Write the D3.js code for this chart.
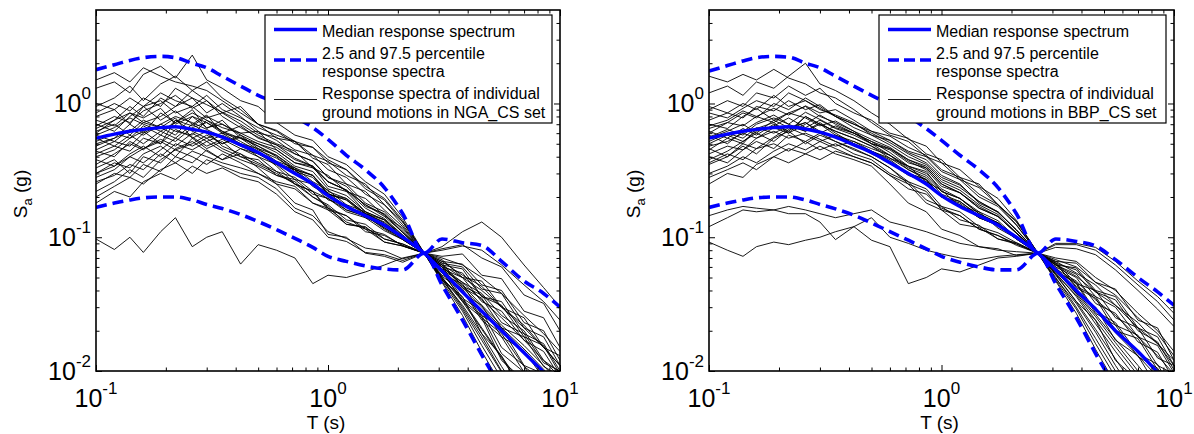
<!DOCTYPE html>
<html><head><meta charset="utf-8">
<script src="https://cdn.jsdelivr.net/npm/d3@7"></script>
<style>
body{margin:0;background:#fff}
svg{display:block}
text{font-family:"Liberation Sans",Arial,Helvetica,sans-serif;fill:#000}
</style>
</head><body>
<svg id="chart" width="1194" height="434"></svg>
<script>
// Periods T (s)
const periods = [0.1,0.12,0.14,0.16,0.19,0.22,0.26,0.3,0.35,0.42,0.5,0.6,0.72,0.86,1.0,1.2,1.45,1.75,2.1,2.6,3.1,3.8,4.6,5.6,7,8.5,10];

// NGA_CS set (left panel)
const medianNGA = [.55,.59,.62,.64,.66,.67,.64,.61,.56,.49,.43,.36,.30,.25,.205,.17,.145,.123,.10,.076,.056,.039,.028,.020,.0137,.0098,.0074];
const lowerNGA  = [.167,.18,.19,.197,.20,.20,.19,.176,.164,.148,.131,.114,.098,.084,.072,.066,.061,.058,.057,.076,.044,.024,.0132,.0073,.0037,.002,.0012];
const upperNGA  = [1.79,1.95,2.1,2.2,2.25,2.2,2.0,1.85,1.6,1.35,1.15,1.0,.80,.66,.54,.41,.32,.235,.15,.076,.097,.091,.087,.066,.047,.038,.03];
const motionsNGA = [
 [1.30,1.45,1.20,1.65,1.90,1.55,2.30,1.50,1.30,1.05,.95,.72,.58,.53,.40,.35,.26,.21,.14,.076,.048,.036,.019,.013,.0066,.0045,.0026],
 [.95,1.10,1.35,1.05,1.40,1.60,1.25,1.45,1.10,.90,.70,.62,.50,.47,.36,.32,.23,.19,.13,.076,.060,.038,.031,.018,.0142,.0088,.0070],
 [.60,.75,.95,.80,1.10,.95,1.25,1.05,.85,.95,.70,.55,.52,.39,.35,.25,.22,.16,.12,.076,.062,.058,.036,.033,.019,.016,.010],
 [.40,.45,.55,.62,.50,.75,.68,.80,.70,.60,.62,.45,.36,.34,.24,.22,.155,.135,.10,.076,.047,.028,.0155,.0088,.0046,.0026,.0016],
 [.30,.36,.33,.42,.48,.40,.55,.46,.52,.40,.35,.30,.25,.20,.17,.125,.12,.092,.086,.076,.056,.033,.025,.012,.0085,.0045,.0036],
 [.25,.30,.28,.35,.31,.40,.36,.45,.38,.42,.33,.25,.18,.16,.105,.10,.076,.072,.065,.076,.052,.045,.026,.021,.011,.0095,.0055],
 [.50,.55,.70,.60,.85,.72,.90,.65,.75,.55,.48,.40,.31,.28,.21,.19,.15,.13,.098,.076,.049,.029,.017,.0098,.0052,.003,.0018],
 [.70,.62,.80,.95,.75,.88,.70,.82,.60,.55,.45,.39,.32,.29,.21,.19,.145,.125,.096,.076,.058,.035,.028,.015,.011,.0058,.0045],
 [.45,.52,.48,.60,.70,.62,.58,.75,.62,.52,.44,.34,.25,.22,.16,.145,.115,.105,.086,.076,.064,.060,.041,.038,.021,.018,.011],
 [.22,.26,.32,.28,.38,.45,.40,.35,.42,.36,.30,.25,.23,.18,.165,.13,.115,.092,.086,.076,.072,.075,.052,.049,.028,.025,.015],
 [.55,.48,.58,.50,.62,.55,.70,.60,.50,.58,.46,.41,.32,.29,.21,.195,.15,.135,.098,.076,.046,.026,.014,.0078,.004,.0022,.0013],
 [.80,.90,.70,.95,1.05,.85,.95,.78,.85,.70,.58,.50,.44,.33,.29,.22,.195,.145,.117,.076,.055,.034,.026,.0135,.0098,.0052,.0042],
 [.35,.42,.50,.45,.58,.52,.66,.72,.60,.68,.55,.49,.42,.37,.28,.25,.18,.155,.113,.076,.060,.054,.036,.031,.018,.0155,.0095],
 [.62,.70,.58,.72,.66,.78,.55,.62,.48,.42,.36,.31,.28,.22,.195,.16,.145,.115,.096,.076,.057,.042,.030,.021,.0146,.0103,.0074],
 [.18,.22,.20,.26,.30,.27,.34,.30,.33,.28,.26,.21,.155,.135,.10,.093,.077,.074,.067,.076,.062,.042,.035,.021,.018,.0108,.0092],
 [1.0,.90,1.10,.95,1.20,1.05,.95,1.15,.90,.78,.66,.58,.52,.41,.37,.29,.25,.175,.13,.076,.050,.030,.018,.010,.0055,.0032,.002],
 [.48,.55,.62,.75,.66,.58,.80,.66,.70,.58,.50,.43,.34,.31,.23,.205,.155,.135,.103,.076,.054,.041,.025,.019,.0108,.0084,.005],
 [.28,.32,.40,.36,.45,.55,.48,.55,.46,.40,.38,.29,.26,.20,.175,.135,.125,.097,.089,.076,.068,.050,.047,.030,.025,.015,.013],
 [.65,.75,.85,.72,.80,.95,1.10,.85,1.0,.80,.62,.53,.42,.37,.28,.24,.17,.15,.108,.076,.048,.031,.019,.0108,.006,.0035,.0022],
 [.38,.34,.42,.48,.40,.50,.45,.52,.44,.38,.34,.29,.27,.21,.195,.155,.14,.112,.096,.076,.060,.044,.031,.022,.0155,.011,.008],
 [.52,.60,.55,.68,.58,.75,.62,.55,.60,.50,.40,.35,.27,.25,.19,.175,.14,.123,.097,.076,.050,.034,.021,.0128,.0075,.0046,.003],
 [.26,.29,.35,.32,.42,.36,.44,.40,.36,.33,.30,.26,.24,.18,.16,.125,.118,.097,.089,.076,.066,.063,.044,.040,.023,.020,.012],
 [.75,.68,.85,.78,.92,.70,.80,.72,.62,.55,.50,.45,.36,.33,.26,.225,.175,.148,.109,.076,.064,.043,.037,.023,.019,.0115,.010],
 [.42,.48,.44,.55,.50,.64,.56,.48,.54,.46,.42,.35,.32,.25,.215,.17,.15,.117,.098,.076,.051,.040,.024,.018,.0098,.0075,.0042],
 [.097,.081,.10,.077,.11,.14,.085,.10,.11,.063,.088,.08,.07,.045,.052,.05,.055,.062,.07,.076,.085,.11,.13,.10,.062,.042,.03],
 [.58,.66,.78,.70,.62,.72,.85,.75,.66,.60,.52,.47,.38,.34,.26,.225,.175,.143,.109,.076,.082,.088,.070,.060,.037,.032,.020],
 [.33,.38,.30,.40,.36,.46,.52,.44,.38,.46,.40,.31,.25,.22,.165,.145,.11,.103,.087,.076,.050,.033,.0205,.0125,.007,.0043,.0028],
 [1.5,1.70,1.45,1.85,1.60,1.45,1.35,1.25,1.05,.85,.70,.63,.52,.47,.38,.32,.24,.195,.134,.076,.058,.050,.033,.028,.017,.014,.009],
 [.68,.80,.72,.88,1.0,1.15,.92,1.05,.80,.66,.56,.49,.39,.34,.26,.225,.165,.138,.104,.076,.057,.046,.038,.026,.020,.012,.0098],
 [.44,.40,.52,.46,.54,.48,.60,.52,.58,.50,.46,.37,.33,.26,.225,.175,.155,.122,.101,.076,.066,.052,.043,.030,.022,.015,.011],
 [.85,1.0,.88,1.10,.95,1.30,1.10,.98,.86,.74,.60,.56,.45,.41,.32,.28,.21,.175,.124,.076,.060,.046,.034,.025,.017,.012,.009],
 [.30,.34,.40,.46,.52,.45,.50,.58,.50,.56,.48,.41,.33,.29,.22,.195,.15,.128,.099,.076,.070,.062,.050,.038,.026,.019,.014],
 [.58,.52,.64,.58,.70,.80,.72,.64,.56,.48,.42,.36,.32,.24,.205,.16,.143,.118,.098,.076,.062,.050,.040,.030,.021,.015,.011],
 [.20,.24,.28,.25,.32,.36,.30,.38,.34,.30,.28,.23,.165,.145,.11,.098,.083,.079,.069,.076,.080,.086,.080,.062,.044,.033,.024]
];

// BBP_CS set (right panel)
const medianBBP = [.55,.59,.62,.64,.66,.67,.645,.61,.56,.49,.43,.36,.30,.25,.205,.17,.145,.123,.10,.076,.057,.040,.029,.020,.014,.0098,.0074];
const lowerBBP  = [.167,.18,.19,.197,.20,.20,.19,.176,.163,.146,.128,.11,.095,.082,.072,.065,.06,.057,.057,.076,.045,.025,.0135,.0075,.0038,.002,.0012];
const upperBBP  = [1.75,1.92,2.08,2.2,2.25,2.22,2.0,1.85,1.6,1.35,1.15,.98,.80,.65,.53,.41,.32,.235,.15,.076,.097,.093,.086,.068,.05,.039,.031];
const motionsBBP = [
 [.90,1.05,.95,1.20,1.10,1.35,1.15,1.30,1.00,.85,.75,.60,.55,.42,.38,.28,.25,.175,.13,.076,.053,.033,.024,.012,.0085,.0045,.0034],
 [.60,.72,.85,.78,1.00,.90,1.10,.95,.80,.70,.62,.53,.43,.38,.29,.25,.18,.155,.113,.076,.062,.059,.040,.036,.021,.018,.011],
 [.45,.55,.50,.65,.72,.60,.80,.70,.62,.55,.48,.39,.34,.26,.225,.17,.155,.117,.098,.076,.048,.029,.016,.009,.0048,.0028,.0017],
 [.35,.40,.48,.42,.55,.62,.50,.58,.52,.45,.40,.33,.25,.22,.16,.145,.115,.103,.087,.076,.056,.045,.027,.022,.0128,.0105,.0064],
 [.70,.65,.80,.92,.75,.85,.95,.80,.72,.62,.50,.45,.36,.33,.25,.215,.165,.143,.108,.076,.049,.032,.0195,.011,.0062,.0037,.0023],
 [1.6,1.45,1.65,1.50,1.80,1.55,1.40,1.20,1.10,.90,.72,.58,.52,.40,.36,.27,.235,.175,.132,.076,.064,.042,.035,.020,.0175,.0102,.009],
 [.50,.58,.52,.62,.68,.78,.66,.75,.65,.58,.50,.46,.38,.34,.26,.225,.175,.148,.108,.076,.066,.064,.046,.041,.024,.021,.012],
 [.40,.36,.45,.52,.46,.58,.52,.45,.50,.42,.38,.30,.26,.19,.17,.135,.123,.097,.091,.076,.053,.037,.024,.0152,.0093,.0059,.004],
 [.55,.62,.70,.60,.75,.66,.72,.60,.68,.60,.52,.43,.34,.31,.22,.195,.15,.128,.099,.076,.060,.038,.030,.017,.013,.0075,.006],
 [.30,.34,.40,.36,.44,.50,.45,.52,.46,.40,.36,.29,.25,.18,.16,.125,.118,.097,.089,.076,.054,.036,.0225,.014,.0085,.0053,.0035],
 [.75,.85,.78,.95,.88,1.05,.90,.98,.80,.66,.58,.53,.44,.40,.31,.27,.20,.17,.123,.076,.056,.046,.028,.023,.0135,.0112,.0068],
 [.62,.55,.65,.58,.70,.62,.80,.70,.58,.52,.44,.39,.32,.27,.20,.18,.14,.123,.097,.076,.070,.066,.050,.040,.027,.020,.014],
 [.48,.52,.60,.55,.66,.60,.70,.82,.70,.60,.50,.41,.32,.28,.21,.185,.145,.128,.098,.076,.047,.027,.0145,.008,.0042,.0024,.0014],
 [.25,.30,.28,.35,.40,.36,.42,.38,.44,.40,.36,.29,.23,.21,.165,.145,.115,.103,.089,.076,.063,.043,.036,.022,.0185,.011,.0095],
 [.092,.08,.072,.085,.092,.088,.095,.10,.11,.12,.095,.085,.045,.05,.058,.055,.062,.07,.072,.076,.052,.033,.0205,.0123,.007,.0043,.0027],
 [.12,.14,.16,.155,.16,.15,.15,.13,.096,.12,.14,.10,.09,.08,.075,.07,.068,.072,.074,.076,.057,.041,.0285,.0193,.013,.009,.0062],
 [.145,.16,.17,.165,.16,.17,.16,.15,.14,.15,.16,.13,.12,.11,.10,.09,.085,.08,.078,.076,.056,.038,.0255,.0163,.010,.0065,.0044],
 [.85,.78,.92,1.05,.95,1.20,1.05,.90,.82,.72,.58,.49,.40,.35,.27,.235,.185,.155,.113,.076,.055,.039,.0265,.0173,.011,.0072,.0049],
 [.38,.44,.52,.60,.52,.64,.72,.62,.56,.50,.44,.38,.30,.27,.20,.175,.14,.123,.097,.076,.064,.057,.039,.034,.020,.0165,.0102],
 [.58,.50,.62,.72,.82,.70,.62,.72,.60,.50,.42,.36,.29,.26,.20,.185,.145,.128,.099,.076,.050,.030,.0175,.010,.0054,.0032,.0019],
 [1.2,1.35,1.15,1.45,1.30,1.60,2.0,1.40,1.25,1.05,.85,.70,.54,.48,.36,.32,.24,.195,.134,.076,.060,.050,.032,.027,.0165,.0138,.0086],
 [.42,.48,.45,.55,.62,.55,.60,.54,.48,.52,.46,.41,.34,.30,.23,.195,.155,.133,.099,.076,.084,.082,.074,.057,.040,.029,.0215],
 [.65,.72,.68,.80,.72,.85,.78,.68,.74,.62,.54,.47,.38,.33,.25,.215,.17,.143,.107,.076,.065,.045,.040,.025,.021,.0125,.011],
 [.28,.32,.36,.32,.40,.46,.42,.48,.42,.38,.34,.25,.18,.155,.115,.103,.085,.082,.073,.076,.062,.053,.036,.030,.018,.0155,.0097],
 [.52,.60,.55,.66,.60,.68,.62,.70,.62,.55,.48,.41,.33,.29,.22,.195,.15,.128,.099,.076,.066,.054,.044,.031,.023,.016,.012],
 [.95,.85,1.00,.90,1.15,.95,1.05,.92,.80,.70,.60,.51,.42,.36,.28,.245,.185,.153,.114,.076,.058,.047,.034,.026,.018,.013,.0095],
 [.36,.42,.38,.46,.50,.44,.52,.60,.52,.46,.40,.33,.26,.23,.17,.155,.12,.108,.091,.076,.088,.088,.080,.062,.044,.033,.024],
 [.68,.75,.88,.80,.92,.82,.96,.85,.90,.75,.62,.57,.47,.41,.32,.28,.21,.175,.124,.076,.062,.051,.039,.031,.021,.016,.011],
 [.46,.40,.50,.46,.56,.66,.58,.52,.58,.50,.44,.37,.30,.27,.20,.175,.14,.123,.097,.076,.068,.060,.046,.037,.025,.019,.013],
 [.56,.64,.58,.70,.78,.70,.86,.76,.66,.60,.52,.46,.37,.32,.24,.215,.165,.143,.107,.076,.090,.090,.084,.066,.047,.036,.027]
];

// Axis ticks and labels
const xMajorTicks = [0.1, 1, 10];
const xMajorExp = ["-1", "0", "1"];
const yMajorTicks = [0.01, 0.1, 1];
const yMajorExp = ["-2", "-1", "0"];
const xMinorTicks = [0.2,0.3,0.4,0.5,0.6,0.7,0.8,0.9,2,3,4,5,6,7,8,9];
const yMinorTicks = [0.02,0.03,0.04,0.05,0.06,0.07,0.08,0.09,0.2,0.3,0.4,0.5,0.6,0.7,0.8,0.9,2,3,4];
const legendMedian = "Median response spectrum";
const legendPct = ["2.5 and 97.5 percentile", "response spectra"];
const setNames = ["NGA_CS", "BBP_CS"];

const panels = [
  {left: 96,  right: 560,  median: medianNGA, lower: lowerNGA, upper: upperNGA, motions: motionsNGA, set: setNames[0]},
  {left: 709, right: 1174, median: medianBBP, lower: lowerBBP, upper: upperBBP, motions: motionsBBP, set: setNames[1]}
];
const plotTop = 10, plotBottom = 371;
const blue = "#0000ff";
const svg = d3.select("#chart");

panels.forEach((p, pi) => {
  const x = d3.scaleLog().domain([0.1, 10]).range([p.left, p.right]);
  const y = d3.scaleLog().domain([0.01, 5]).range([plotBottom, plotTop]);
  const g = svg.append("g");
  const clipId = "clip" + pi;
  svg.append("clipPath").attr("id", clipId).append("rect")
    .attr("x", p.left).attr("y", plotTop).attr("width", p.right - p.left).attr("height", plotBottom - plotTop);

  const plot = g.append("g").attr("clip-path", `url(#${clipId})`);
  const line = d3.line().x((d, i) => x(periods[i])).y(d => y(d));
  const smooth = d3.line().x((d, i) => x(periods[i])).y(d => y(d)).curve(d3.curveMonotoneX);

  p.motions.forEach(m => {
    plot.append("path").attr("d", line(m)).attr("fill", "none")
      .attr("stroke", "#000").attr("stroke-width", 0.9).attr("stroke-linejoin", "round");
  });
  [p.lower, p.upper].forEach(arr => {
    plot.append("path").attr("d", smooth(arr)).attr("fill", "none")
      .attr("stroke", blue).attr("stroke-width", 3.6).attr("stroke-dasharray", "11,6");
  });
  plot.append("path").attr("d", smooth(p.median)).attr("fill", "none")
    .attr("stroke", blue).attr("stroke-width", 3.4);

  // Axes (inward ticks on all four sides)
  const W = p.right - p.left, H = plotBottom - plotTop;
  const styleAxis = a => { a.select(".domain").remove(); a.selectAll("line").attr("stroke", "#000").attr("stroke-width", 1); };
  const addAxes = (vals, len) => {
    g.append("g").attr("transform", `translate(0,${plotBottom})`)
      .call(d3.axisBottom(x).tickValues(vals.x).tickSize(-len).tickFormat("")).call(styleAxis);
    g.append("g").attr("transform", `translate(0,${plotTop})`)
      .call(d3.axisTop(x).tickValues(vals.x).tickSize(-len).tickFormat("")).call(styleAxis);
    g.append("g").attr("transform", `translate(${p.left},0)`)
      .call(d3.axisLeft(y).tickValues(vals.y).tickSize(-len).tickFormat("")).call(styleAxis);
    g.append("g").attr("transform", `translate(${p.right},0)`)
      .call(d3.axisRight(y).tickValues(vals.y).tickSize(-len).tickFormat("")).call(styleAxis);
  };
  addAxes({x: xMajorTicks, y: yMajorTicks}, 6);
  addAxes({x: xMinorTicks, y: yMinorTicks}, 3.5);

  g.append("rect").attr("x", p.left).attr("y", plotTop).attr("width", W).attr("height", H)
    .attr("fill", "none").attr("stroke", "#000").attr("stroke-width", 1.6);

  // Tick labels
  xMajorTicks.forEach((v, i) => {
    const t = g.append("text").attr("x", x(v)).attr("y", 407).attr("text-anchor", "middle").style("font-size", "25px");
    t.append("tspan").text("10");
    t.append("tspan").attr("dy", -13).style("font-size", "17px").text(xMajorExp[i]);
  });
  yMajorTicks.forEach((v, i) => {
    const t = g.append("text").attr("x", p.left - 5).attr("y", y(v) + 8.5).attr("text-anchor", "end").style("font-size", "25px");
    t.append("tspan").text("10");
    t.append("tspan").attr("dy", -13).style("font-size", "17px").text(yMajorExp[i]);
  });

  // Axis titles
  g.append("text").attr("x", x(1) - 2).attr("y", 429).attr("text-anchor", "middle")
    .style("font-size", "19px").text("T (s)");
  const yl = g.append("text").attr("transform", `translate(${p.left - 69},194) rotate(-90)`)
    .attr("text-anchor", "middle").style("font-size", "19px");
  yl.append("tspan").text("S");
  yl.append("tspan").attr("dy", 5).style("font-size", "13px").text("a");
  yl.append("tspan").attr("dy", -5).text(" (g)");

  // Legend
  const bx = p.right - 295, by = 15, bw = 287, bh = 108;
  const lg = g.append("g");
  lg.append("rect").attr("x", bx).attr("y", by).attr("width", bw).attr("height", bh)
    .attr("fill", "#fff").attr("stroke", "#000").attr("stroke-width", 1.2);
  const sx1 = bx + 9, sx2 = bx + 52, tx = bx + 57;
  lg.append("line").attr("x1", sx1).attr("x2", sx2).attr("y1", 29.5).attr("y2", 29.5)
    .attr("stroke", blue).attr("stroke-width", 3.4);
  lg.append("line").attr("x1", sx1).attr("x2", sx2).attr("y1", 60).attr("y2", 60)
    .attr("stroke", blue).attr("stroke-width", 3.6).attr("stroke-dasharray", "11,5");
  lg.append("line").attr("x1", sx1).attr("x2", sx2).attr("y1", 99.5).attr("y2", 99.5)
    .attr("stroke", "#000").attr("stroke-width", 0.9);
  const legendLines = [
    [legendMedian, 36.5], [legendPct[0], 58.5], [legendPct[1], 77],
    ["Response spectra of individual", 98.5], [`ground motions in ${p.set} set`, 117.5]
  ];
  legendLines.forEach(([s, yy]) => {
    lg.append("text").attr("x", tx).attr("y", yy).style("font-size", "16px").text(s);
  });
});
</script>
</body></html>
